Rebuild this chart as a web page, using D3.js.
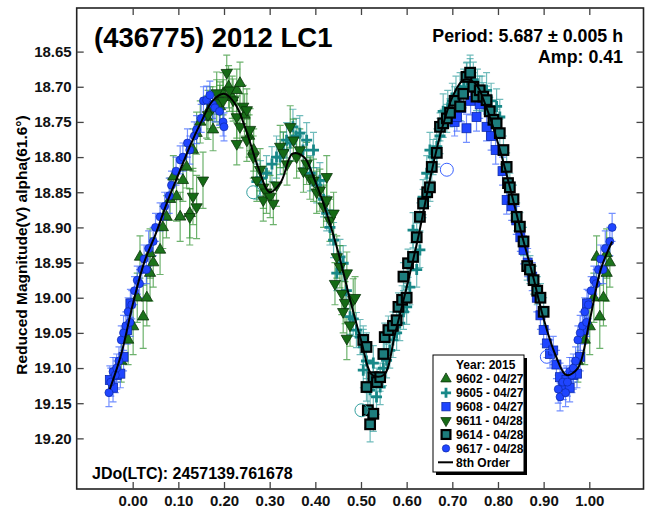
<!DOCTYPE html>
<html><head><meta charset="utf-8">
<script src="https://cdn.jsdelivr.net/npm/d3@7"></script>
<style>
html,body{margin:0;padding:0;background:#fff;}
svg{display:block;font-family:"Liberation Sans",Arial,sans-serif;font-weight:bold;}
</style></head>
<body><svg id="c" width="648" height="510"></svg>
<script>
// ---- data (phase in [0,1), reduced magnitude, error) ----
const s9602 = [[0.001,19.041,0.04],[0.01,19.0,0.035],[0.016,18.942,0.03],[0.023,19.027,0.045],[0.031,19.0,0.04],[0.038,18.937,0.035],[0.038,18.965,0.04],[0.045,18.95,0.035],[0.06,18.932,0.035],[0.066,18.9,0.03],[0.074,18.885,0.03],[0.082,18.86,0.03],[0.089,18.828,0.03],[0.096,18.856,0.035],[0.104,18.885,0.035],[0.11,18.833,0.03],[0.118,18.814,0.03],[0.125,18.88,0.035],[0.132,18.79,0.03],[0.14,18.766,0.03],[0.148,18.75,0.03],[0.162,18.743,0.03],[0.17,18.73,0.03],[0.176,18.761,0.03],[0.184,18.72,0.03],[0.191,18.728,0.03],[0.198,18.71,0.03],[0.21,18.7,0.03],[0.218,18.715,0.03],[0.228,18.705,0.03],[0.235,18.695,0.03],[0.245,18.74,0.03],[0.255,18.77,0.03],[0.265,18.79,0.03],[0.975,19.09,0.03],[0.99,19.06,0.035]];
const s9605 = [[0.272,18.835,0.025],[0.28,18.83,0.025],[0.293,18.823,0.025],[0.305,18.81,0.025],[0.315,18.8,0.03],[0.323,18.8,0.025],[0.33,18.79,0.025],[0.337,18.776,0.025],[0.345,18.78,0.025],[0.351,18.757,0.025],[0.358,18.77,0.025],[0.366,18.766,0.025],[0.373,18.79,0.025],[0.381,18.776,0.025],[0.389,18.823,0.025],[0.396,18.79,0.025],[0.403,18.84,0.025],[0.41,18.833,0.025],[0.418,18.86,0.025],[0.425,18.88,0.025],[0.432,18.9,0.025],[0.44,18.918,0.025],[0.447,18.965,0.025],[0.454,18.942,0.025],[0.461,18.951,0.025],[0.468,18.99,0.025],[0.476,19.027,0.025],[0.483,19.03,0.025],[0.49,19.046,0.025],[0.498,19.056,0.025],[0.505,19.07,0.025],[0.505,19.103,0.025],[0.512,19.09,0.025],[0.52,19.131,0.025],[0.527,19.093,0.025],[0.534,19.141,0.025],[0.542,19.127,0.025],[0.549,19.1,0.025],[0.556,19.089,0.025],[0.563,19.075,0.025],[0.57,19.06,0.025],[0.578,19.05,0.025],[0.585,19.036,0.025],[0.593,19.02,0.025],[0.6,19.013,0.025],[0.607,18.985,0.025],[0.614,18.904,0.025],[0.622,18.96,0.025],[0.629,18.932,0.025],[0.636,18.857,0.025],[0.644,18.823,0.025],[0.651,18.79,0.025],[0.658,18.8,0.025],[0.666,18.785,0.025],[0.673,18.77,0.025],[0.68,18.735,0.025],[0.69,18.73,0.025],[0.7,18.72,0.025],[0.708,18.71,0.025],[0.717,18.705,0.025],[0.725,18.7,0.025],[0.732,18.69,0.025],[0.739,18.68,0.025],[0.746,18.69,0.025],[0.755,18.7,0.025],[0.765,18.71,0.025],[0.775,18.705,0.025],[0.785,18.72,0.025],[0.797,18.728,0.025],[0.804,18.743,0.025]];
const s9608 = [[0.705,18.75,0.02],[0.71,18.743,0.02],[0.72,18.73,0.02],[0.731,18.759,0.02],[0.74,18.72,0.02],[0.753,18.743,0.02],[0.76,18.725,0.02],[0.775,18.757,0.02],[0.785,18.77,0.02],[0.795,18.79,0.02],[0.81,18.82,0.02],[0.819,18.861,0.02],[0.83,18.87,0.02],[0.84,18.89,0.02],[0.849,18.914,0.02],[0.856,18.932,0.02],[0.865,18.95,0.02],[0.875,18.97,0.02],[0.885,19.0,0.02],[0.893,19.025,0.02],[0.9,19.046,0.02],[0.907,19.065,0.02],[0.914,19.08,0.02],[0.921,19.075,0.02],[0.928,19.095,0.02],[0.936,19.113,0.02],[0.943,19.125,0.02],[0.95,19.117,0.02],[0.957,19.128,0.02],[0.965,19.11,0.02],[0.973,19.108,0.02],[0.98,19.084,0.02],[0.988,19.046,0.02],[0.995,19.008,0.02]];
const s9611 = [[0.125,18.885,0.04],[0.132,18.856,0.04],[0.14,18.871,0.045],[0.154,18.833,0.04],[0.165,18.74,0.035],[0.175,18.73,0.03],[0.184,18.709,0.03],[0.191,18.723,0.03],[0.198,18.72,0.03],[0.206,18.68,0.025],[0.212,18.705,0.03],[0.22,18.719,0.03],[0.228,18.743,0.03],[0.228,18.781,0.03],[0.235,18.757,0.03],[0.242,18.728,0.03],[0.25,18.733,0.03],[0.25,18.776,0.03],[0.257,18.761,0.03],[0.264,18.8,0.03],[0.272,18.833,0.03],[0.279,18.818,0.03],[0.286,18.843,0.03],[0.286,18.861,0.03],[0.293,18.85,0.03],[0.301,18.856,0.03],[0.308,18.866,0.03],[0.315,18.84,0.03],[0.323,18.785,0.03],[0.33,18.794,0.03],[0.338,18.81,0.03],[0.345,18.757,0.03],[0.352,18.776,0.03],[0.359,18.8,0.03],[0.366,18.79,0.03],[0.374,18.82,0.03],[0.381,18.809,0.03],[0.388,18.83,0.03],[0.396,18.833,0.03],[0.403,18.85,0.03],[0.41,18.847,0.03],[0.418,18.87,0.03],[0.425,18.828,0.03],[0.425,18.861,0.03],[0.432,18.89,0.03],[0.44,18.88,0.03],[0.443,18.98,0.03],[0.447,18.942,0.03],[0.454,18.956,0.03],[0.458,18.994,0.03],[0.461,19.02,0.03],[0.465,19.007,0.03],[0.469,18.965,0.03],[0.469,19.058,0.03],[0.476,19.039,0.03],[0.483,19.003,0.03],[0.487,19.0,0.03]];
const s9614 = [[0.505,19.06,0.02],[0.512,19.07,0.02],[0.512,19.127,0.02],[0.515,19.16,0.025],[0.52,19.18,0.025],[0.527,19.165,0.025],[0.527,19.113,0.02],[0.535,19.12,0.02],[0.542,19.113,0.02],[0.549,19.08,0.02],[0.552,19.056,0.02],[0.56,19.046,0.02],[0.57,19.04,0.02],[0.578,19.032,0.02],[0.582,19.013,0.02],[0.59,19.003,0.02],[0.593,18.97,0.02],[0.6,19.0,0.02],[0.603,18.951,0.02],[0.614,18.942,0.02],[0.622,18.914,0.02],[0.629,18.885,0.02],[0.636,18.866,0.02],[0.645,18.85,0.02],[0.651,18.843,0.02],[0.655,18.814,0.02],[0.666,18.794,0.02],[0.673,18.757,0.02],[0.68,18.752,0.02],[0.688,18.745,0.02],[0.695,18.737,0.02],[0.705,18.72,0.02],[0.717,18.728,0.02],[0.724,18.71,0.02],[0.731,18.686,0.02],[0.739,18.68,0.02],[0.746,18.7,0.02],[0.753,18.714,0.02],[0.76,18.705,0.02],[0.768,18.714,0.02],[0.775,18.719,0.02],[0.782,18.735,0.02],[0.79,18.747,0.02],[0.797,18.752,0.02],[0.804,18.766,0.02],[0.812,18.79,0.02],[0.819,18.814,0.02],[0.822,18.837,0.02],[0.826,18.843,0.02],[0.834,18.86,0.02],[0.841,18.885,0.02],[0.848,18.899,0.02],[0.856,18.92,0.02],[0.864,18.955,0.02],[0.87,18.96,0.02],[0.878,18.975,0.02],[0.886,18.99,0.02],[0.893,19.0,0.02],[0.9,19.02,0.02]];
const s9617 = [[0.932,19.13,0.02],[0.936,19.141,0.02],[0.942,19.12,0.02],[0.948,19.135,0.02],[0.952,19.12,0.02],[0.957,19.105,0.02],[0.962,19.11,0.025],[0.965,19.1,0.02],[0.97,19.09,0.02],[0.975,19.06,0.02],[0.98,19.05,0.025],[0.985,19.04,0.02],[0.99,19.02,0.02],[0.994,19.035,0.02],[0.998,19.01,0.02],[0.004,18.99,0.02],[0.01,18.975,0.02],[0.015,18.98,0.02],[0.02,18.96,0.02],[0.025,18.945,0.02],[0.03,18.96,0.02],[0.035,18.93,0.025],[0.045,18.92,0.02],[0.05,18.9,0.02],[0.06,18.885,0.02],[0.07,18.87,0.02],[0.08,18.855,0.025],[0.085,18.84,0.02],[0.095,18.82,0.02],[0.104,18.804,0.02],[0.11,18.8,0.02],[0.12,18.78,0.02],[0.125,18.79,0.02],[0.135,18.77,0.02],[0.14,18.761,0.02],[0.15,18.745,0.02],[0.155,18.72,0.02],[0.162,18.719,0.02],[0.169,18.712,0.02],[0.175,18.725,0.02],[0.18,18.73,0.02],[0.19,18.735,0.02],[0.198,18.75,0.02],[0.2,18.757,0.02]];
const rejected = [[0.264,18.85,"9605"],[0.688,18.818,"9608"],[0.907,19.084,"9608"],[0.501,19.16,"9605"]];
// 8th order Fourier fit
const fitPhase = [-0.05,-0.025,0,0.025,0.05,0.075,0.1,0.125,0.15,0.175,0.2,0.225,0.25,0.275,0.3,0.325,0.35,0.375,0.4,0.425,0.45,0.475,0.5,0.525,0.55,0.575,0.6,0.625,0.65,0.675,0.7,0.725,0.75,0.775,0.8,0.825,0.85,0.875,0.9,0.925,0.95,0.975,1.0,1.025,1.05];
const fitMag = [19.13,19.08,19.01,18.95,18.91,18.865,18.825,18.785,18.75,18.72,18.71,18.725,18.765,18.815,18.85,18.835,18.795,18.8,18.835,18.88,18.935,19.0,19.06,19.11,19.11,19.05,18.985,18.915,18.835,18.765,18.715,18.69,18.695,18.73,18.78,18.84,18.905,18.965,19.03,19.08,19.11,19.1,19.035,18.96,18.92];
const xTicks = [0,0.1,0.2,0.3,0.4,0.5,0.6,0.7,0.8,0.9,1.0];
const yTicks = [18.65,18.70,18.75,18.80,18.85,18.90,18.95,19.00,19.05,19.10,19.15,19.20];
const seriesNames = ["9602 - 04/27","9605 - 04/27","9608 - 04/27","9611 - 04/28","9614 - 04/28","9617 - 04/28"];

// ---- styles ----
const S = {
  "9602":{data:s9602,shape:"triUp",fill:"#1c731c",stroke:"#0a330a",err:"#2f922f"},
  "9605":{data:s9605,shape:"plus",fill:"#188888",stroke:"#188888",err:"#34a0a0"},
  "9608":{data:s9608,shape:"square",fill:"#1f45ff",stroke:"#0d2aa8",err:"#3a62ff"},
  "9611":{data:s9611,shape:"triDown",fill:"#156a15",stroke:"#0a330a",err:"#2f922f"},
  "9614":{data:s9614,shape:"bigSquare",fill:"#1d7d7d",stroke:"#000",err:"#34a0a0"},
  "9617":{data:s9617,shape:"circle",fill:"#1f45ff",stroke:"#0d2aa8",err:"#3a62ff"}
};
const keys = ["9602","9605","9608","9611","9614","9617"];

const L=76.7,R=643.5,T=8,B=489;
const x = d3.scaleLinear().domain([-0.1226,1.1187]).range([L,R]);
const y = d3.scaleLinear().domain([18.588,19.272]).range([T,B]);
const svg = d3.select("#c");

function expand(arr){
  const out=[];
  arr.forEach(d=>{
    [-1,0,1].forEach(k=>{const p=d[0]+k; if(p>=-0.055&&p<=1.055) out.push([p,d[1],d[2]]);});
  });
  return out;
}
function drawMarker(g,shape,st,cx,cy,scale){
  scale=scale||1;
  if(shape==="triUp"||shape==="triDown"){
    const p=d3.symbol().type(d3.symbolTriangle).size(55*scale)();
    g.append("path").attr("d",p).attr("transform",`translate(${cx},${cy})`+(shape==="triDown"?" rotate(180)":""))
     .attr("fill",st.fill).attr("stroke",st.stroke).attr("stroke-width",0.8);
  } else if(shape==="plus"){
    const a=5.5*Math.sqrt(scale);
    g.append("path").attr("d",`M${cx-a},${cy}H${cx+a}M${cx},${cy-a}V${cy+a}`).attr("stroke",st.fill).attr("stroke-width",2.8).attr("fill","none");
  } else if(shape==="square"){
    const a=4.5*Math.sqrt(scale);
    g.append("rect").attr("x",cx-a).attr("y",cy-a).attr("width",2*a).attr("height",2*a).attr("fill",st.fill).attr("stroke",st.stroke).attr("stroke-width",0.8);
  } else if(shape==="bigSquare"){
    const a=4.8*Math.sqrt(scale);
    g.append("rect").attr("x",cx-a).attr("y",cy-a).attr("width",2*a).attr("height",2*a).attr("fill",st.fill).attr("stroke",st.stroke).attr("stroke-width",2.2);
  } else if(shape==="circle"){
    g.append("circle").attr("cx",cx).attr("cy",cy).attr("r",4*Math.sqrt(scale)).attr("fill",st.fill).attr("stroke",st.stroke).attr("stroke-width",0.7);
  }
}

// error bars
const eg = svg.append("g");
keys.forEach(k=>{
  const st=S[k];
  expand(st.data).forEach(d=>{
    const cx=x(d[0]), y1=y(d[1]-d[2]), y2=y(d[1]+d[2]);
    eg.append("path").attr("d",`M${cx},${y1}V${y2}M${cx-3.5},${y1}H${cx+3.5}M${cx-3.5},${y2}H${cx+3.5}`)
      .attr("stroke",st.err).attr("stroke-opacity",0.7).attr("stroke-width",1.2).attr("fill","none");
  });
});
// markers
const mg = svg.append("g");
keys.forEach(k=>{
  const st=S[k];
  expand(st.data).forEach(d=>drawMarker(mg,st.shape,st,x(d[0]),y(d[1])));
});
// rejected points (hollow circles)
rejected.forEach(d=>{
  mg.append("circle").attr("cx",x(d[0])).attr("cy",y(d[1])).attr("r",6.5).attr("fill","none")
    .attr("stroke",S[d[2]].err).attr("stroke-width",1);
});
// fit line
svg.append("path").datum(fitPhase.map((p,i)=>[p,fitMag[i]]))
  .attr("d",d3.line().x(d=>x(d[0])).y(d=>y(d[1])).curve(d3.curveCatmullRom))
  .attr("fill","none").attr("stroke","#000").attr("stroke-width",2);

// frame
svg.append("rect").attr("x",L).attr("y",T).attr("width",R-L).attr("height",B-T).attr("fill","none").attr("stroke","#222").attr("stroke-width",1.6);

// axes
const fmt2=d3.format(".2f");
const ax = (a)=>a.tickSize(-7).tickPadding(5);
const gl=svg.append("g").attr("transform",`translate(${L},0)`).call(ax(d3.axisLeft(y).tickValues(yTicks).tickFormat(fmt2)));
const gr=svg.append("g").attr("transform",`translate(${R},0)`).call(ax(d3.axisRight(y).tickValues(yTicks).tickFormat("")));
const gb=svg.append("g").attr("transform",`translate(0,${B})`).call(ax(d3.axisBottom(x).tickValues(xTicks).tickFormat(fmt2)).tickPadding(6));
const gt=svg.append("g").attr("transform",`translate(0,${T})`).call(ax(d3.axisTop(x).tickValues(xTicks).tickFormat("")));
[gl,gr,gb,gt].forEach(g=>{
  g.select(".domain").remove();
  g.selectAll(".tick line").attr("stroke","#444").attr("stroke-width",1.3);
  g.selectAll("text").attr("font-family","Liberation Sans, Arial, sans-serif").attr("font-weight","bold").attr("font-size",15).attr("fill","#111");
});

// texts
svg.append("text").attr("x",94).attr("y",47).attr("font-size",27.5).attr("fill","#000").text("(436775) 2012 LC1");
svg.append("text").attr("x",623).attr("y",42).attr("text-anchor","end").attr("font-size",17.8).attr("fill","#000").text("Period: 5.687 \u00b1 0.005 h");
svg.append("text").attr("x",623).attr("y",63).attr("text-anchor","end").attr("font-size",17.8).attr("fill","#000").text("Amp: 0.41");
svg.append("text").attr("x",92).attr("y",479).attr("font-size",16).attr("fill","#000").text("JDo(LTC): 2457139.761678");
svg.append("text").attr("transform","translate(27,245) rotate(-90)").attr("text-anchor","middle").attr("font-size",15.5).attr("fill","#000").text("Reduced Magnitude(V) alpha(61.6\u00b0)");

// legend
const lg = svg.append("g");
const lx=433, ly=355, lw=91, lh=117;
lg.append("rect").attr("x",lx+3).attr("y",ly+3).attr("width",lw).attr("height",lh).attr("fill","#000");
lg.append("rect").attr("x",lx).attr("y",ly).attr("width",lw).attr("height",lh).attr("fill","#fff").attr("stroke","#000").attr("stroke-width",1);
const rowH=13.9, r0=ly+10;
lg.append("text").attr("x",456).attr("y",r0).attr("dy","0.35em").attr("font-size",12).text("Year: 2015");
keys.forEach((k,i)=>{
  const cy=r0+rowH*(i+1);
  drawMarker(lg,S[k].shape,S[k],446,cy,0.85);
  lg.append("text").attr("x",456).attr("y",cy).attr("dy","0.35em").attr("font-size",12).text(seriesNames[i]);
});
const cyl=r0+rowH*7;
lg.append("line").attr("x1",438).attr("x2",453).attr("y1",cyl).attr("y2",cyl).attr("stroke","#000").attr("stroke-width",2);
lg.append("text").attr("x",456).attr("y",cyl).attr("dy","0.35em").attr("font-size",12).text("8th Order");
</script></body></html>
